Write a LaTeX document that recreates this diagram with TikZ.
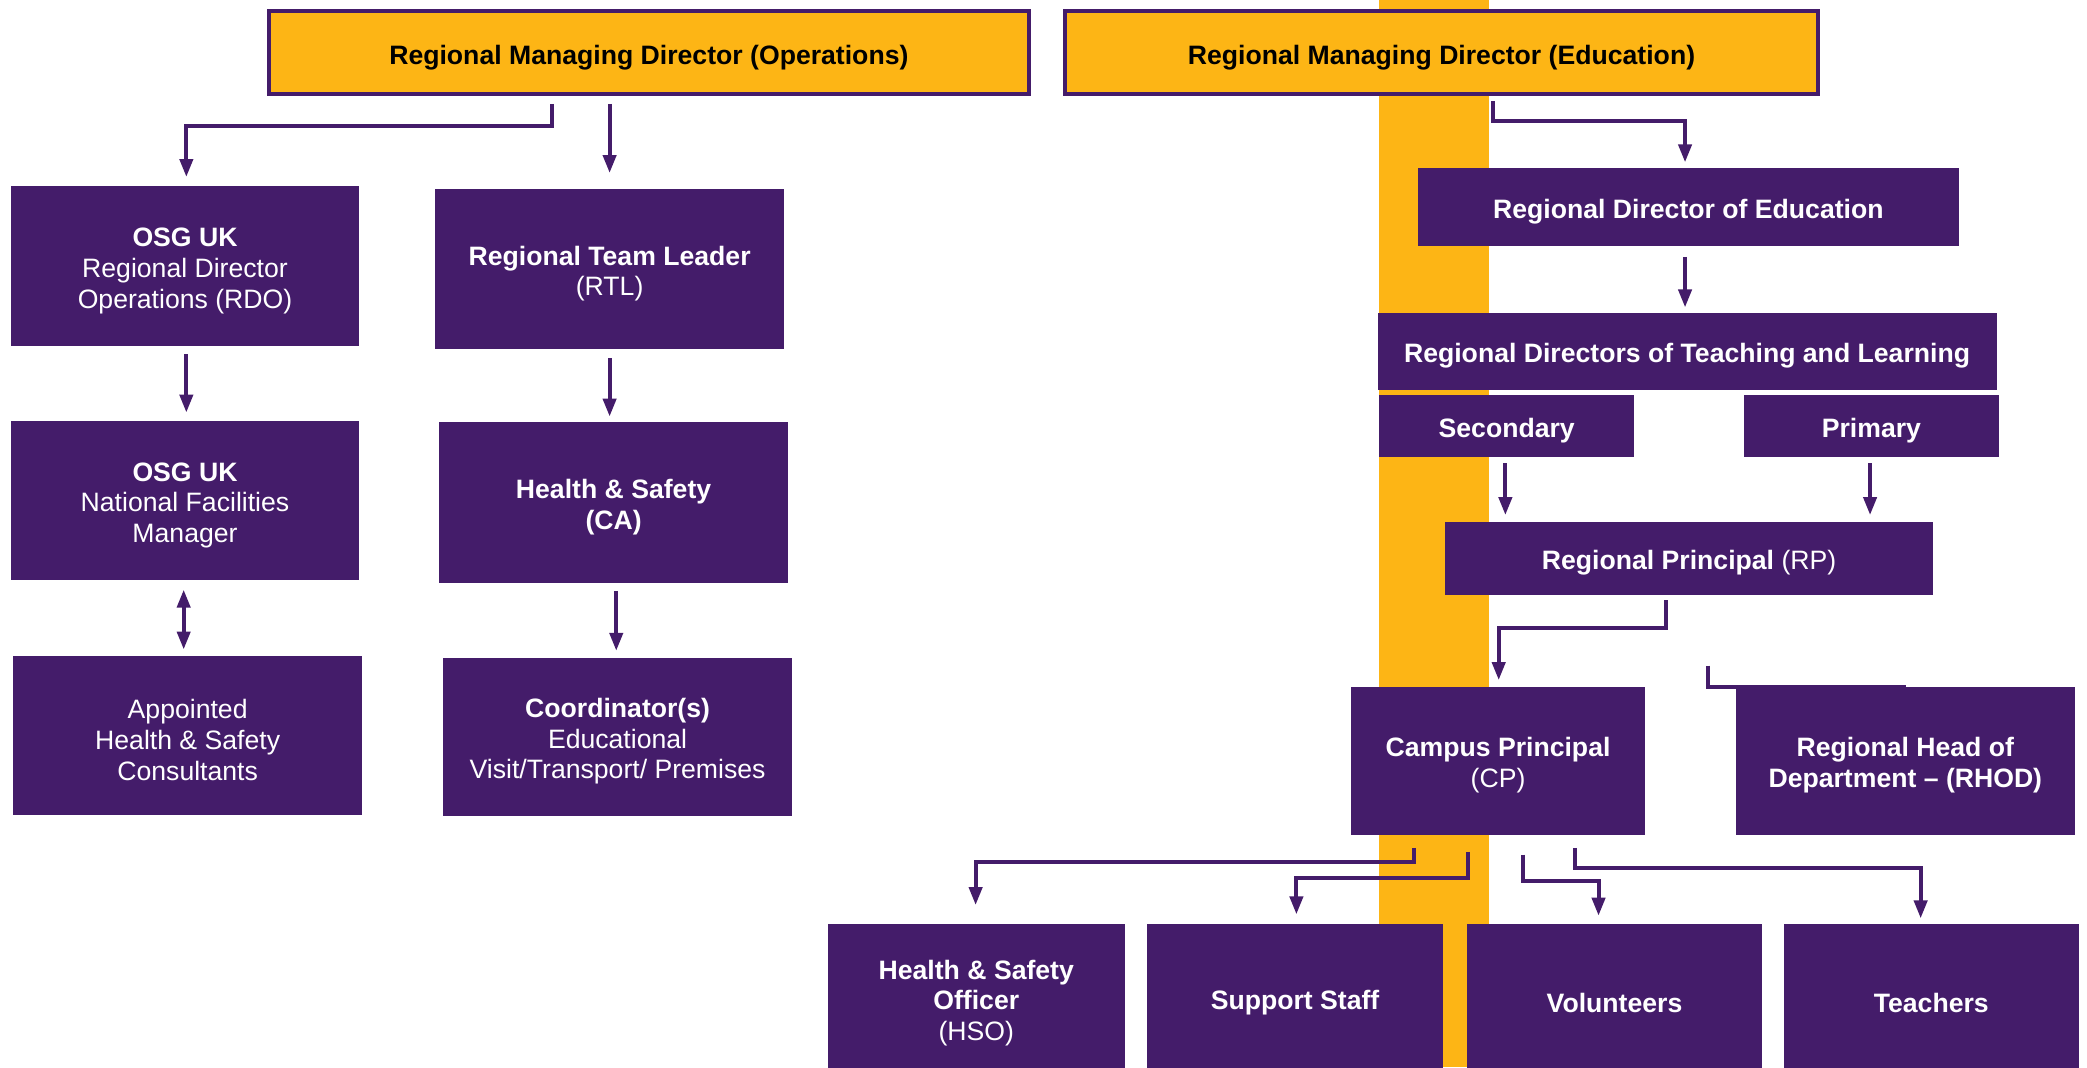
\documentclass[tikz,border=0pt]{standalone}
\usepackage{fontspec}
\setmainfont{Liberation Sans}
\usetikzlibrary{calc,arrows.meta}
\definecolor{osgpurple}{HTML}{441C6A}
\definecolor{osgyellow}{HTML}{FDB515}
\newcommand\bx[7][]{%
  \node[box,#1,minimum width={(#5-#3)*0.665pt},minimum height={(#6-#4)*0.665pt}] (#2) at ({(#3+#5)/2},{(#4+#6)/2}) {};%
  \node[boxtext,#1,fill=none,draw=none] (#2-t) at ($(#2.center)+(0,3.5)$) {#7};}
\tikzset{
  box/.style={fill=osgpurple,draw=none,inner sep=0pt,outer sep=0pt},
  boxtext/.style={inner sep=0pt,outer sep=0pt,align=center,text=white,
    font=\fontsize{13.3}{15.3}\selectfont},
  topbox/.style={fill=osgyellow,draw=osgpurple,line width=2pt,text=black},
  arr/.style={draw=osgpurple,line width=2pt,-{Triangle[length=9pt,width=6.5pt]}},
  plain/.style={draw=osgpurple,line width=2pt},
  dbl/.style={draw=osgpurple,line width=2pt,{Triangle[length=9pt,width=6.5pt]}-{Triangle[length=9pt,width=6.5pt]}}
}
\begin{document}
\begin{tikzpicture}[x=0.665pt,y=-0.665pt]
\useasboundingbox (0,0) rectangle (1568,802);
\clip (0,0) rectangle (1568,802);
\fill[osgyellow] (1036,0) rectangle (1119,802);
% boxes
\bx[topbox]{ops}{202}{8}{773}{71}{\textbf{Regional Managing Director (Operations)}}
\bx[topbox]{edu}{800}{8}{1366}{71}{\textbf{Regional Managing Director (Education)}}
\bx{rdo}{8}{140}{270}{260}{\textbf{OSG UK}\\Regional Director\\Operations (RDO)}
\bx{rtl}{327}{142}{589}{262}{\textbf{Regional Team Leader}\\(RTL)}
\bx{nfm}{8}{316}{270}{436}{\textbf{OSG UK}\\National Facilities\\Manager}
\bx{hsca}{330}{317}{592}{438}{\textbf{Health \& Safety}\\\textbf{(CA)}}
\bx{apt}{10}{493}{272}{612}{Appointed\\Health \& Safety\\Consultants}
\bx{coord}{333}{494}{595}{613}{\textbf{Coordinator(s)}\\Educational\\Visit/Transport/ Premises}
\bx{rde}{1065}{126}{1472}{185}{\textbf{Regional Director of Education}}
\bx{rdtl}{1035}{235}{1500}{293}{\textbf{Regional Directors of Teaching and Learning}}
\bx{sec}{1036}{297}{1228}{343}{\textbf{Secondary}}
\bx{pri}{1310}{297}{1502}{343}{\textbf{Primary}}
\bx{rp}{1086}{392}{1452}{447}{\textbf{Regional Principal} (RP)}
\bx{cp}{1015}{516}{1236}{627}{\textbf{Campus Principal}\\(CP)}
\bx{rhod}{1304}{516}{1559}{627}{\textbf{Regional Head of}\\\textbf{Department – (RHOD)}}
\bx{hso}{622}{694}{845}{806}{\textbf{Health \& Safety}\\\textbf{Officer}\\(HSO)}
\bx{ss}{862}{694}{1084}{806}{\textbf{Support Staff}}
\bx{vol}{1102}{694}{1324}{806}{\textbf{Volunteers}}
\bx{tea}{1340}{694}{1562}{806}{\textbf{Teachers}}
% connectors
\draw[arr] ($(ops.south west)+(213,7)$) -- ++(0,17) -| ($(rdo.north west)+(132,-7)$);
\draw[arr] ($(ops.south west)+(256,7)$) -- ($(rtl.north west)+(131,-12)$);
\draw[arr] ($(rdo.south west)+(132,6)$) -- ($(nfm.north west)+(132,-6)$);
\draw[arr] ($(rtl.south west)+(131,7)$) -- ($(hsca.north west)+(128,-4)$);
\draw[dbl] ($(nfm.south west)+(130,7)$) -- ($(apt.north west)+(128,-5)$);
\draw[arr] ($(hsca.south west)+(133,6)$) -- ($(coord.north west)+(130,-5)$);
\draw[arr] ($(edu.south west)+(322,5)$) -- ++(0,15) -| ($(rde.north west)+(201,-4)$);
\draw[arr] ($(rde.south west)+(201,8)$) -- ($(rdtl.north west)+(231,-4)$);
\draw[arr] ($(sec.south west)+(95,5)$) -- ($(rp.north west)+(45,-5)$);
\draw[arr] ($(pri.south west)+(95,5)$) -- ($(rp.north west)+(319,-5)$);
\draw[arr] ($(rp.south west)+(166,4)$) -- ++(0,21) -| ($(cp.north west)+(111,-5)$);
\draw[plain] ($(rhod.north west)+(-21,-16)$) |- ($(rhod.north west)+(128,0)$);
\draw[arr] ($(cp.south west)+(47,10)$) -- ++(0,11) -| ($(hso.north west)+(111,-14)$);
\draw[arr] ($(cp.south west)+(88,13)$) -- ++(0,20) -| ($(ss.north west)+(112,-7)$);
\draw[arr] ($(cp.south west)+(129,15)$) -- ++(0,20) -| ($(vol.north west)+(99,-6)$);
\draw[arr] ($(cp.south west)+(168,10)$) -- ++(0,15) -| ($(tea.north west)+(103,-4)$);
\end{tikzpicture}
\end{document}
